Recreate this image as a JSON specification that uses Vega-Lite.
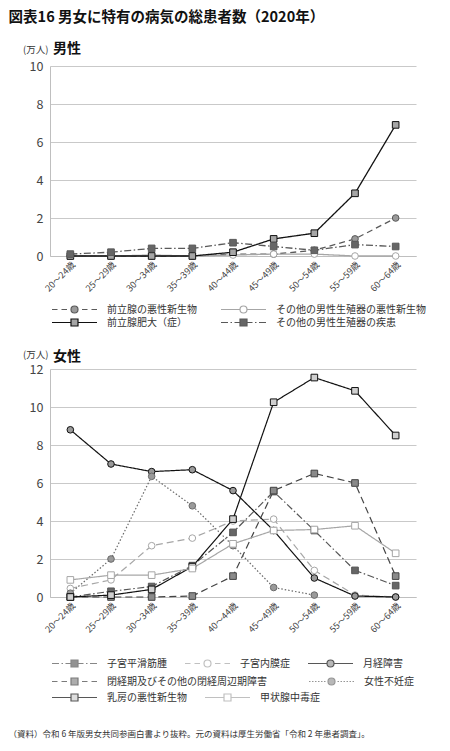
{
  "$schema": "https://vega.github.io/schema/vega-lite/v6.json",
  "padding": {"left": 8, "top": 9, "right": 5, "bottom": 5},
  "title": {"text": "図表16 男女に特有の病気の総患者数（2020年）", "anchor": "start", "frame": "bounds", "fontSize": 14.5, "fontWeight": "bold", "color": "#111", "offset": 17},
  "datasets": {
    "male": [
      {"age": "20〜24歳", "s": "前立腺の悪性新生物", "v": 0},
      {"age": "25〜29歳", "s": "前立腺の悪性新生物", "v": 0},
      {"age": "30〜34歳", "s": "前立腺の悪性新生物", "v": 0},
      {"age": "35〜39歳", "s": "前立腺の悪性新生物", "v": 0},
      {"age": "40〜44歳", "s": "前立腺の悪性新生物", "v": 0.1},
      {"age": "45〜49歳", "s": "前立腺の悪性新生物", "v": 0.1},
      {"age": "50〜54歳", "s": "前立腺の悪性新生物", "v": 0.3},
      {"age": "55〜59歳", "s": "前立腺の悪性新生物", "v": 0.9},
      {"age": "60〜64歳", "s": "前立腺の悪性新生物", "v": 2.0},
      {"age": "20〜24歳", "s": "その他の男性生殖器の悪性新生物", "v": 0},
      {"age": "25〜29歳", "s": "その他の男性生殖器の悪性新生物", "v": 0},
      {"age": "30〜34歳", "s": "その他の男性生殖器の悪性新生物", "v": 0.05},
      {"age": "35〜39歳", "s": "その他の男性生殖器の悪性新生物", "v": 0},
      {"age": "40〜44歳", "s": "その他の男性生殖器の悪性新生物", "v": 0.05},
      {"age": "45〜49歳", "s": "その他の男性生殖器の悪性新生物", "v": 0.1},
      {"age": "50〜54歳", "s": "その他の男性生殖器の悪性新生物", "v": 0.1},
      {"age": "55〜59歳", "s": "その他の男性生殖器の悪性新生物", "v": 0},
      {"age": "60〜64歳", "s": "その他の男性生殖器の悪性新生物", "v": 0},
      {"age": "20〜24歳", "s": "前立腺肥大（症）", "v": 0},
      {"age": "25〜29歳", "s": "前立腺肥大（症）", "v": 0},
      {"age": "30〜34歳", "s": "前立腺肥大（症）", "v": 0},
      {"age": "35〜39歳", "s": "前立腺肥大（症）", "v": 0},
      {"age": "40〜44歳", "s": "前立腺肥大（症）", "v": 0.2},
      {"age": "45〜49歳", "s": "前立腺肥大（症）", "v": 0.9},
      {"age": "50〜54歳", "s": "前立腺肥大（症）", "v": 1.2},
      {"age": "55〜59歳", "s": "前立腺肥大（症）", "v": 3.3},
      {"age": "60〜64歳", "s": "前立腺肥大（症）", "v": 6.9},
      {"age": "20〜24歳", "s": "その他の男性生殖器の疾患", "v": 0.1},
      {"age": "25〜29歳", "s": "その他の男性生殖器の疾患", "v": 0.2},
      {"age": "30〜34歳", "s": "その他の男性生殖器の疾患", "v": 0.4},
      {"age": "35〜39歳", "s": "その他の男性生殖器の疾患", "v": 0.4},
      {"age": "40〜44歳", "s": "その他の男性生殖器の疾患", "v": 0.7},
      {"age": "45〜49歳", "s": "その他の男性生殖器の疾患", "v": 0.5},
      {"age": "50〜54歳", "s": "その他の男性生殖器の疾患", "v": 0.3},
      {"age": "55〜59歳", "s": "その他の男性生殖器の疾患", "v": 0.6},
      {"age": "60〜64歳", "s": "その他の男性生殖器の疾患", "v": 0.5}
    ],
    "female": [
      {"age": "20〜24歳", "s": "子宮平滑筋腫", "v": 0},
      {"age": "25〜29歳", "s": "子宮平滑筋腫", "v": 0.3},
      {"age": "30〜34歳", "s": "子宮平滑筋腫", "v": 0.55},
      {"age": "35〜39歳", "s": "子宮平滑筋腫", "v": 1.65},
      {"age": "40〜44歳", "s": "子宮平滑筋腫", "v": 3.4},
      {"age": "45〜49歳", "s": "子宮平滑筋腫", "v": 5.55},
      {"age": "50〜54歳", "s": "子宮平滑筋腫", "v": 3.5},
      {"age": "55〜59歳", "s": "子宮平滑筋腫", "v": 1.4},
      {"age": "60〜64歳", "s": "子宮平滑筋腫", "v": 0.6},
      {"age": "20〜24歳", "s": "子宮内膜症", "v": 0.45},
      {"age": "25〜29歳", "s": "子宮内膜症", "v": 0.9},
      {"age": "30〜34歳", "s": "子宮内膜症", "v": 2.7},
      {"age": "35〜39歳", "s": "子宮内膜症", "v": 3.1},
      {"age": "40〜44歳", "s": "子宮内膜症", "v": 4.0},
      {"age": "45〜49歳", "s": "子宮内膜症", "v": 4.1},
      {"age": "50〜54歳", "s": "子宮内膜症", "v": 1.4},
      {"age": "55〜59歳", "s": "子宮内膜症", "v": 0.1},
      {"age": "60〜64歳", "s": "子宮内膜症", "v": 0},
      {"age": "20〜24歳", "s": "月経障害", "v": 8.8},
      {"age": "25〜29歳", "s": "月経障害", "v": 7.0},
      {"age": "30〜34歳", "s": "月経障害", "v": 6.6},
      {"age": "35〜39歳", "s": "月経障害", "v": 6.7},
      {"age": "40〜44歳", "s": "月経障害", "v": 5.6},
      {"age": "45〜49歳", "s": "月経障害", "v": 3.5},
      {"age": "50〜54歳", "s": "月経障害", "v": 1.0},
      {"age": "55〜59歳", "s": "月経障害", "v": 0.05},
      {"age": "60〜64歳", "s": "月経障害", "v": 0},
      {"age": "20〜24歳", "s": "閉経期及びその他の閉経周辺期障害", "v": 0},
      {"age": "25〜29歳", "s": "閉経期及びその他の閉経周辺期障害", "v": 0},
      {"age": "30〜34歳", "s": "閉経期及びその他の閉経周辺期障害", "v": 0},
      {"age": "35〜39歳", "s": "閉経期及びその他の閉経周辺期障害", "v": 0.05},
      {"age": "40〜44歳", "s": "閉経期及びその他の閉経周辺期障害", "v": 1.1},
      {"age": "45〜49歳", "s": "閉経期及びその他の閉経周辺期障害", "v": 5.6},
      {"age": "50〜54歳", "s": "閉経期及びその他の閉経周辺期障害", "v": 6.5},
      {"age": "55〜59歳", "s": "閉経期及びその他の閉経周辺期障害", "v": 6.0},
      {"age": "60〜64歳", "s": "閉経期及びその他の閉経周辺期障害", "v": 1.1},
      {"age": "20〜24歳", "s": "女性不妊症", "v": 0.2},
      {"age": "25〜29歳", "s": "女性不妊症", "v": 2.0},
      {"age": "30〜34歳", "s": "女性不妊症", "v": 6.35},
      {"age": "35〜39歳", "s": "女性不妊症", "v": 4.8},
      {"age": "40〜44歳", "s": "女性不妊症", "v": 2.7},
      {"age": "45〜49歳", "s": "女性不妊症", "v": 0.5},
      {"age": "50〜54歳", "s": "女性不妊症", "v": 0.1},
      {"age": "20〜24歳", "s": "乳房の悪性新生物", "v": 0},
      {"age": "25〜29歳", "s": "乳房の悪性新生物", "v": 0.1},
      {"age": "30〜34歳", "s": "乳房の悪性新生物", "v": 0.4},
      {"age": "35〜39歳", "s": "乳房の悪性新生物", "v": 1.6},
      {"age": "40〜44歳", "s": "乳房の悪性新生物", "v": 4.1},
      {"age": "45〜49歳", "s": "乳房の悪性新生物", "v": 10.25},
      {"age": "50〜54歳", "s": "乳房の悪性新生物", "v": 11.55},
      {"age": "55〜59歳", "s": "乳房の悪性新生物", "v": 10.85},
      {"age": "60〜64歳", "s": "乳房の悪性新生物", "v": 8.5},
      {"age": "20〜24歳", "s": "甲状腺中毒症", "v": 0.9},
      {"age": "25〜29歳", "s": "甲状腺中毒症", "v": 1.15},
      {"age": "30〜34歳", "s": "甲状腺中毒症", "v": 1.15},
      {"age": "35〜39歳", "s": "甲状腺中毒症", "v": 1.5},
      {"age": "40〜44歳", "s": "甲状腺中毒症", "v": 2.8},
      {"age": "45〜49歳", "s": "甲状腺中毒症", "v": 3.5},
      {"age": "50〜54歳", "s": "甲状腺中毒症", "v": 3.55},
      {"age": "55〜59歳", "s": "甲状腺中毒症", "v": 3.75},
      {"age": "60〜64歳", "s": "甲状腺中毒症", "v": 2.3}
    ]
  },
  "vconcat": [
    {
      "title": {"text": "（資料）令和 6 年版男女共同参画白書より抜粋。元の資料は厚生労働省「令和 2 年患者調査」。", "orient": "bottom", "anchor": "start", "frame": "bounds", "fontSize": 8.5, "fontWeight": "normal", "color": "#333", "offset": 26},
      "spacing": 20,
      "resolve": {"scale": {"x": "independent", "y": "independent", "fill": "independent", "stroke": "independent", "shape": "independent", "strokeDash": "independent"}},
      "vconcat": [
        {
          "width": 366,
          "height": 190,
          "title": {"text": "男性", "anchor": "start", "frame": "group", "fontSize": 14, "fontWeight": "bold", "color": "#111", "dx": 3, "dy": 12, "offset": 0},
          "data": {"name": "male"},
          "encoding": {
            "x": {"field": "age", "type": "ordinal", "scale": {"domain": ["20〜24歳","25〜29歳","30〜34歳","35〜39歳","40〜44歳","45〜49歳","50〜54歳","55〜59歳","60〜64歳"]},
                  "axis": {"title": null, "labelAngle": -45, "labelFontSize": 9, "labelPadding": 4, "grid": false}},
            "y": {"field": "v", "type": "quantitative", "scale": {"domain": [0, 10]},
                  "axis": {"values": [0,2,4,6,8,10], "domain": true, "labelFontSize": 12.5, "labelPadding": 7, "grid": true, "title": "⠀⠀(万人)", "titleAngle": 0, "titleAlign": "right", "titleBaseline": "middle", "titleX": -2, "titleY": -17, "titleFontSize": 9.5, "titleFontWeight": "normal", "titleColor": "#333"}},
            "stroke": {"field": "s", "type": "nominal", "scale": {"domain": ["前立腺の悪性新生物","その他の男性生殖器の悪性新生物","前立腺肥大（症）","その他の男性生殖器の疾患"], "range": ["#5a5a5a","#a6a6a6","#111111","#595959"]}}
          },
          "layer": [
            {
              "mark": {"type": "line", "strokeWidth": 1.3},
              "encoding": {
                "strokeDash": {"field": "s", "type": "nominal", "scale": {"domain": ["その他の男性生殖器の悪性新生物","前立腺の悪性新生物","前立腺肥大（症）","その他の男性生殖器の疾患"], "range": [[1,0],[6,4],[1,0],[7,2.5,1.5,2.5]]}, "legend": null}
              }
            },
            {
              "transform": [{"filter": {"field": "s", "oneOf": ["前立腺の悪性新生物","その他の男性生殖器の悪性新生物"]}}],
              "mark": {"type": "circle", "size": 44, "strokeWidth": 1, "opacity": 1},
              "encoding": {
                "fill": {"field": "s", "type": "nominal", "scale": {"domain": ["前立腺の悪性新生物","その他の男性生殖器の悪性新生物","前立腺肥大（症）","その他の男性生殖器の疾患"], "range": ["#9a9a9a","#ffffff","#a6a6a6","#666666"]}}
              }
            },
            {
              "transform": [{"filter": {"field": "s", "oneOf": ["前立腺肥大（症）","その他の男性生殖器の疾患"]}}],
              "mark": {"type": "square", "size": 44, "strokeWidth": 1, "opacity": 1},
              "encoding": {
                "fill": {"field": "s", "type": "nominal", "scale": {"domain": ["前立腺の悪性新生物","その他の男性生殖器の悪性新生物","前立腺肥大（症）","その他の男性生殖器の疾患"], "range": ["#9a9a9a","#ffffff","#a6a6a6","#666666"]}}
              }
            },
            {
              "transform": [{"filter": "false"}],
              "mark": {"type": "point", "size": 100},
              "encoding": {
                "fill": {"field": "s", "type": "nominal", "scale": {"domain": ["前立腺の悪性新生物","その他の男性生殖器の悪性新生物","前立腺肥大（症）","その他の男性生殖器の疾患"], "range": ["#9a9a9a","#ffffff","#a6a6a6","#666666"]}},
                "shape": {"field": "s", "type": "nominal",
                  "scale": {"domain": ["前立腺の悪性新生物","その他の男性生殖器の悪性新生物","前立腺肥大（症）","その他の男性生殖器の疾患"],
                    "range": [
                      "M-4.5,0H-3.4M-2.6,0H-1.5M1.5,0H2.6M3.4,0H4.5M0.7,0A0.7,0.7,0,1,1,-0.7,0A0.7,0.7,0,1,1,0.7,0Z",
                      "M-4.5,0H-0.7M0.7,0H4.5M0.7,0A0.7,0.7,0,1,1,-0.7,0A0.7,0.7,0,1,1,0.7,0Z",
                      "M-4.5,0H-0.7M0.7,0H4.5M-0.7,-0.7H0.7V0.7H-0.7Z",
                      "M-4.5,0H-3.1M-2.6,0H-2.3M-1.8,0H-0.7M0.7,0H1.8M2.3,0H2.6M3.1,0H4.5M-0.7,-0.7H0.7V0.7H-0.7Z"
                    ]},
                  "legend": {"orient": "none", "legendX": -1.5, "legendY": 237, "direction": "horizontal", "columns": 2, "title": null, "columnPadding": 20, "rowPadding": 0, "clipHeight": 13, "padding": 0, "symbolSize": 100, "symbolOffset": 20, "labelOffset": 26.5, "labelFontSize": 10, "labelColor": "#333", "labelLimit": 300, "symbolStrokeWidth": 1.2, "symbolFillColor": "#ffffff", "symbolOpacity": 1}
                }
              }
            }
          ]
        },
        {
          "width": 366,
          "height": 228,
          "title": {"text": "女性", "anchor": "start", "frame": "group", "fontSize": 14, "fontWeight": "bold", "color": "#111", "dx": 3, "dy": 15, "offset": 0},
          "data": {"name": "female"},
          "resolve": {"scale": {"fill": "independent", "stroke": "independent", "shape": "independent"}},
          "encoding": {
            "x": {"field": "age", "type": "ordinal", "scale": {"domain": ["20〜24歳","25〜29歳","30〜34歳","35〜39歳","40〜44歳","45〜49歳","50〜54歳","55〜59歳","60〜64歳"]},
                  "axis": {"title": null, "labelAngle": -45, "labelFontSize": 9, "labelPadding": 4, "grid": false}},
            "y": {"field": "v", "type": "quantitative", "scale": {"domain": [0, 12]},
                  "axis": {"values": [0,2,4,6,8,10,12], "domain": true, "labelFontSize": 12.5, "labelPadding": 7, "grid": true, "title": "⠀⠀(万人)", "titleAngle": 0, "titleAlign": "right", "titleBaseline": "middle", "titleX": -2, "titleY": -15, "titleFontSize": 9.5, "titleFontWeight": "normal", "titleColor": "#333"}}
          },
          "layer": [
            {
              "mark": {"type": "line", "strokeWidth": 1.2},
              "encoding": {
                "stroke": {"field": "s", "type": "nominal", "scale": {"domain": ["子宮平滑筋腫","子宮内膜症","月経障害","閉経期及びその他の閉経周辺期障害","女性不妊症","乳房の悪性新生物","甲状腺中毒症"], "range": ["#555555","#a6a6a6","#111111","#444444","#6a6a6a","#111111","#a6a6a6"]}, "legend": null},
                "strokeDash": {"field": "s", "type": "nominal", "scale": {"domain": ["子宮内膜症","子宮平滑筋腫","月経障害","閉経期及びその他の閉経周辺期障害","女性不妊症","乳房の悪性新生物","甲状腺中毒症"], "range": [[7,4],[7,2.5,1.5,2.5],[1,0],[7,4],[1.5,2],[1,0],[1,0]]}, "legend": null},
                "strokeWidth": {"condition": {"test": "datum.s === '月経障害'", "value": 1.8}, "value": 1.2}
              }
            },
            {
              "transform": [{"filter": {"field": "s", "oneOf": ["子宮内膜症","月経障害","女性不妊症"]}}],
              "mark": {"type": "circle", "size": 44, "strokeWidth": 1, "opacity": 1},
              "encoding": {
                "stroke": {"field": "s", "type": "nominal", "scale": {"domain": ["子宮平滑筋腫","子宮内膜症","月経障害","閉経期及びその他の閉経周辺期障害","女性不妊症","乳房の悪性新生物","甲状腺中毒症"], "range": ["#555555","#a6a6a6","#111111","#444444","#6a6a6a","#111111","#a6a6a6"]}, "legend": null},
                "fill": {"field": "s", "type": "nominal", "scale": {"domain": ["子宮平滑筋腫","子宮内膜症","月経障害","閉経期及びその他の閉経周辺期障害","女性不妊症","乳房の悪性新生物","甲状腺中毒症"], "range": ["#666666","#ffffff","#9a9a9a","#8a8a8a","#9a9a9a","#d0d0d0","#ffffff"]}, "legend": null}
              }
            },
            {
              "transform": [{"filter": {"field": "s", "oneOf": ["子宮平滑筋腫","閉経期及びその他の閉経周辺期障害","乳房の悪性新生物","甲状腺中毒症"]}}],
              "mark": {"type": "square", "size": 44, "strokeWidth": 1, "opacity": 1},
              "encoding": {
                "stroke": {"field": "s", "type": "nominal", "scale": {"domain": ["子宮平滑筋腫","子宮内膜症","月経障害","閉経期及びその他の閉経周辺期障害","女性不妊症","乳房の悪性新生物","甲状腺中毒症"], "range": ["#555555","#a6a6a6","#111111","#444444","#6a6a6a","#111111","#a6a6a6"]}, "legend": null},
                "fill": {"field": "s", "type": "nominal", "scale": {"domain": ["子宮平滑筋腫","子宮内膜症","月経障害","閉経期及びその他の閉経周辺期障害","女性不妊症","乳房の悪性新生物","甲状腺中毒症"], "range": ["#666666","#ffffff","#9a9a9a","#8a8a8a","#9a9a9a","#d0d0d0","#ffffff"]}, "legend": null}
              }
            },
            {
              "transform": [{"filter": "false"}],
              "mark": {"type": "point", "size": 100},
              "encoding": {
                "stroke": {"field": "s", "type": "nominal", "scale": {"domain": ["子宮平滑筋腫","子宮内膜症","月経障害"], "range": ["#555555","#a6a6a6","#111111"]}},
                "fill": {"field": "s", "type": "nominal", "scale": {"domain": ["子宮平滑筋腫","子宮内膜症","月経障害"], "range": ["#666666","#ffffff","#9a9a9a"]}},
                "shape": {"field": "s", "type": "nominal",
                  "scale": {"domain": ["子宮平滑筋腫","子宮内膜症","月経障害"],
                    "range": [
                      "M-4.5,0H-3.1M-2.6,0H-2.3M-1.8,0H-0.7M0.7,0H1.8M2.3,0H2.6M3.1,0H4.5M-0.7,-0.7H0.7V0.7H-0.7Z",
                      "M-4.5,0H-3.4M-2.6,0H-1.5M1.5,0H2.6M3.4,0H4.5M0.7,0A0.7,0.7,0,1,1,-0.7,0A0.7,0.7,0,1,1,0.7,0Z",
                      "M-4.5,0H-0.7M0.7,0H4.5M0.7,0A0.7,0.7,0,1,1,-0.7,0A0.7,0.7,0,1,1,0.7,0Z"
                    ]},
                  "legend": {"orient": "none", "legendX": -1.5, "legendY": 288, "direction": "horizontal", "title": null, "columnPadding": 14, "clipHeight": 13, "padding": 0, "symbolSize": 100, "symbolOffset": 20, "labelOffset": 26.5, "labelFontSize": 10, "labelColor": "#333", "labelLimit": 300, "symbolStrokeWidth": 1.2, "symbolFillColor": "#ffffff", "symbolOpacity": 1}
                }
              }
            },
            {
              "transform": [{"filter": "false"}],
              "mark": {"type": "point", "size": 100},
              "encoding": {
                "stroke": {"field": "s", "type": "nominal", "scale": {"domain": ["閉経期及びその他の閉経周辺期障害","女性不妊症"], "range": ["#444444","#6a6a6a"]}},
                "fill": {"field": "s", "type": "nominal", "scale": {"domain": ["閉経期及びその他の閉経周辺期障害","女性不妊症"], "range": ["#8a8a8a","#9a9a9a"]}},
                "shape": {"field": "s", "type": "nominal",
                  "scale": {"domain": ["閉経期及びその他の閉経周辺期障害","女性不妊症"],
                    "range": [
                      "M-4.5,0H-3.4M-2.6,0H-1.5M1.5,0H2.6M3.4,0H4.5M-0.7,-0.7H0.7V0.7H-0.7Z",
                      "M-4.5,0H-4.2M-3.9,0H-3.6M-3.3,0H-3M-2.7,0H-2.4M-2.1,0H-1.8M-1.5,0H-1.2M1.2,0H1.5M1.8,0H2.1M2.4,0H2.7M3,0H3.3M3.6,0H3.9M4.2,0H4.5M0.7,0A0.7,0.7,0,1,1,-0.7,0A0.7,0.7,0,1,1,0.7,0Z"
                    ]},
                  "legend": {"orient": "none", "legendX": -1.5, "legendY": 306, "direction": "horizontal", "title": null, "columnPadding": 38, "clipHeight": 13, "padding": 0, "symbolSize": 100, "symbolOffset": 20, "labelOffset": 26.5, "labelFontSize": 10, "labelColor": "#333", "labelLimit": 300, "symbolStrokeWidth": 1.2, "symbolFillColor": "#ffffff", "symbolOpacity": 1}
                }
              }
            },
            {
              "transform": [{"filter": "false"}],
              "mark": {"type": "point", "size": 100},
              "encoding": {
                "stroke": {"field": "s", "type": "nominal", "scale": {"domain": ["乳房の悪性新生物","甲状腺中毒症"], "range": ["#111111","#a6a6a6"]}},
                "fill": {"field": "s", "type": "nominal", "scale": {"domain": ["乳房の悪性新生物","甲状腺中毒症"], "range": ["#d0d0d0","#ffffff"]}},
                "shape": {"field": "s", "type": "nominal",
                  "scale": {"domain": ["乳房の悪性新生物","甲状腺中毒症"],
                    "range": [
                      "M-4.5,0H-0.7M0.7,0H4.5M-0.7,-0.7H0.7V0.7H-0.7Z",
                      "M-4.5,0H-0.7M0.7,0H4.5M-0.7,-0.7H0.7V0.7H-0.7Z"
                    ]},
                  "legend": {"orient": "none", "legendX": -1.5, "legendY": 322, "direction": "horizontal", "title": null, "columnPadding": 14, "clipHeight": 13, "padding": 0, "symbolSize": 100, "symbolOffset": 20, "labelOffset": 26.5, "labelFontSize": 10, "labelColor": "#333", "labelLimit": 300, "symbolStrokeWidth": 1.2, "symbolFillColor": "#ffffff", "symbolOpacity": 1}
                }
              }
            }
          ]
        }
      ]
    }
  ],
  "config": {
    "font": "Noto Sans CJK JP",
    "view": {"stroke": null},
    "axis": {"domainColor": "#bfbfbf", "gridColor": "#c9c9c9", "ticks": false, "labelColor": "#444"}
  }
}
